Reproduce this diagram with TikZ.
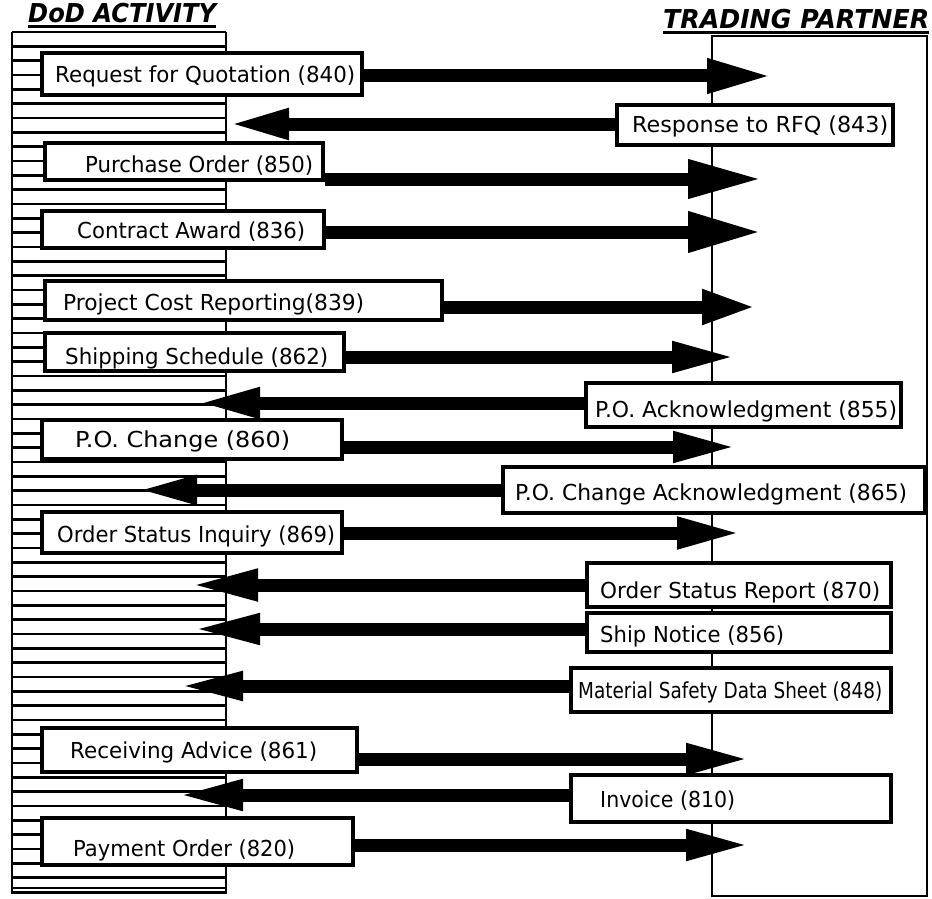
\documentclass[tikz,border=0pt]{standalone}
\usepackage{fontspec}
\usetikzlibrary{arrows.meta,fit}
\newfontfamily\lblfont{DejaVu Sans}
\newcommand\sz[2]{\resizebox{#1}{\height}{#2}}
\begin{document}
\begin{tikzpicture}[x=1pt,y=-1pt,
  box/.style={draw, line width=3.2pt, fill=white, inner sep=0pt},
  lbl/.style={font=\lblfont\fontsize{22}{26}\selectfont, inner sep=0pt, anchor=base west},
  ttl/.style={font=\lblfont\bfseries\itshape\fontsize{26}{30}\selectfont, inner sep=0pt, anchor=base west},
  stripe/.style={line width=2.8pt},
  frame/.style={line width=2.8pt},
  arr/.style 2 args={line width=13pt, -{Triangle[length=#1pt,width=#2pt]}},
]
\useasboundingbox (0,0) rectangle (932,899);
% DoD activity column (stack of stripes)
\foreach \k in {0,...,60} \draw[stripe] (12,{32+\k*14.333}) -- (226,{32+\k*14.333});
\draw[frame] (12,32) -- (12,893) -- (226,893) -- (226,32);
\draw[stripe] (12,888) -- (226,888);
% trading partner box
\draw[frame] (712,36) -- (927,36) -- (927,896) -- (712,896) -- cycle;
% titles
\node[ttl] (dod) at (28,23) {\sz{188pt}{DoD ACTIVITY}};
\draw[line width=2.4pt] ([yshift=-3pt]dod.south west) -- ([yshift=-3pt]dod.south east);
\node[ttl] (tp) at (663,29) {\sz{266pt}{TRADING PARTNER}};
\draw[line width=2.4pt] ([yshift=-3pt]tp.south west) -- ([yshift=-3pt]tp.south east);
% boxes
\node[box, fit={(42,53) (362,95)}] (b1) {};
\node[box, fit={(617,105) (893,145)}] (b2) {};
\node[box, fit={(45,143) (323,180)}] (b3) {};
\node[box, fit={(42,211) (324,248)}] (b4) {};
\node[box, fit={(45,281) (442,320)}] (b5) {};
\node[box, fit={(45,333) (344,371)}] (b6) {};
\node[box, fit={(586,383) (901,427)}] (b7) {};
\node[box, fit={(42,420) (342,459)}] (b8) {};
\node[box, fit={(503,467) (925,513)}] (b9) {};
\node[box, fit={(42,512) (342,553)}] (b10) {};
\node[box, fit={(587,563) (891,607)}] (b11) {};
\node[box, fit={(587,613) (891,652)}] (b12) {};
\node[box, fit={(571,668) (891,712)}] (b13) {};
\node[box, fit={(42,728) (357,772)}] (b14) {};
\node[box, fit={(571,775) (891,822)}] (b15) {};
\node[box, fit={(42,818) (353,865)}] (b16) {};
% labels
\node[lbl] (l1) at (55,83) {\sz{300pt}{Request for Quotation (840)}};
\node[lbl] (l2) at (632,132) {\sz{256pt}{Response to RFQ (843)}};
\node[lbl] (l3) at (85,172) {\sz{228pt}{Purchase Order (850)}};
\node[lbl] (l4) at (77,238) {\sz{228pt}{Contract Award (836)}};
\node[lbl] (l5) at (63,310) {\sz{301pt}{Project Cost Reporting(839)}};
\node[lbl] (l6) at (65,364) {\sz{263pt}{Shipping Schedule (862)}};
\node[lbl] (l7) at (595,417) {\sz{302pt}{P.O. Acknowledgment (855)}};
\node[lbl] (l8) at (75,447) {\sz{215pt}{P.O. Change (860)}};
\node[lbl] (l9) at (515,500) {\sz{392pt}{P.O. Change Acknowledgment (865)}};
\node[lbl] (l10) at (57,542) {\sz{278pt}{Order Status Inquiry (869)}};
\node[lbl] (l11) at (600,598) {\sz{280pt}{Order Status Report (870)}};
\node[lbl] (l12) at (600,642) {\sz{184pt}{Ship Notice (856)}};
\node[lbl] (l13) at (578,698) {\sz{304pt}{Material Safety Data Sheet (848)}};
\node[lbl] (l14) at (70,758) {\sz{247pt}{Receiving Advice (861)}};
\node[lbl] (l15) at (600,807) {\sz{135pt}{Invoice (810)}};
\node[lbl] (l16) at (73,856) {\sz{222pt}{Payment Order (820)}};
% arrow tips
\coordinate (t1) at (772,76);
\coordinate (t2) at (228,124);
\coordinate (t3) at (762,179);
\coordinate (t4) at (761,232);
\coordinate (t5) at (756,307);
\coordinate (t6) at (737,357);
\coordinate (t7) at (197,403);
\coordinate (t8) at (738,447);
\coordinate (t9) at (135,490);
\coordinate (t10) at (742,533);
\coordinate (t11) at (190,585);
\coordinate (t12) at (192,629);
\coordinate (t13) at (177,686);
\coordinate (t14) at (751,759);
\coordinate (t15) at (177,795);
\coordinate (t16) at (751,845);
% arrows
\draw[arr={65}{32}] (b1.east |- t1) -- (t1);
\draw[arr={61}{28}] (b2.west |- t2) -- (t2);
\draw[arr={74}{36}] (b3.east |- t3) -- (t3);
\draw[arr={73}{38}] (b4.east |- t4) -- (t4);
\draw[arr={54}{32}] (b5.east |- t5) -- (t5);
\draw[arr={65}{28}] (b6.east |- t6) -- (t6);
\draw[arr={63}{28}] (b7.west |- t7) -- (t7);
\draw[arr={65}{28}] (b8.east |- t8) -- (t8);
\draw[arr={62}{26}] (b9.west |- t9) -- (t9);
\draw[arr={65}{29}] (b10.east |- t10) -- (t10);
\draw[arr={68}{29}] (b11.west |- t11) -- (t11);
\draw[arr={68}{28}] (b12.west |- t12) -- (t12);
\draw[arr={66}{26}] (b13.west |- t13) -- (t13);
\draw[arr={65}{28}] (b14.east |- t14) -- (t14);
\draw[arr={66}{28}] (b15.west |- t15) -- (t15);
\draw[arr={65}{28}] (b16.east |- t16) -- (t16);
\end{tikzpicture}
\end{document}
